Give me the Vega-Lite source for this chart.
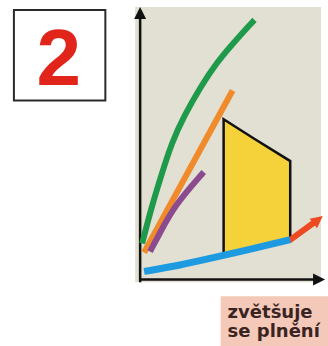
{
  "$schema": "https://vega.github.io/schema/vega-lite/v6.json",
  "width": 328,
  "height": 346,
  "autosize": {"type": "fit", "contains": "padding"},
  "padding": 0,
  "background": "white",
  "config": {"view": {"stroke": null}},
  "datasets": {
    "numbox": [{"x": 14, "x2": 106, "y": 10, "y2": 101}],
    "plotbg": [{"x": 136, "x2": 323, "y": 7, "y2": 284}],
    "labelbox": [{"x": 222, "x2": 330, "y": 298, "y2": 348}],
    "num": [{"x": 59, "y": 85, "t": "2"}],
    "label": [{"x": 229, "y": 320, "t": "zvětšuje\nse plnění"}],
    "lines": [
      {"s": "green", "o": 0, "x": 143, "y": 245},
      {"s": "green", "o": 1, "x": 152, "y": 210},
      {"s": "green", "o": 2, "x": 162, "y": 177},
      {"s": "green", "o": 3, "x": 173, "y": 143},
      {"s": "green", "o": 4, "x": 185, "y": 117},
      {"s": "green", "o": 5, "x": 202, "y": 87},
      {"s": "green", "o": 6, "x": 218, "y": 63},
      {"s": "green", "o": 7, "x": 235, "y": 43},
      {"s": "green", "o": 8, "x": 256, "y": 20},
      {"s": "orange", "o": 0, "x": 145, "y": 254},
      {"s": "orange", "o": 1, "x": 234, "y": 91},
      {"s": "purple", "o": 0, "x": 151, "y": 253},
      {"s": "purple", "o": 1, "x": 160, "y": 236},
      {"s": "purple", "o": 2, "x": 176, "y": 206},
      {"s": "purple", "o": 3, "x": 205, "y": 173},
      {"s": "red", "o": 0, "x": 291, "y": 242},
      {"s": "red", "o": 1, "x": 317, "y": 223}
    ],
    "blue": [
      {"o": 0, "x": 145, "y": 273},
      {"o": 1, "x": 180, "y": 267},
      {"o": 2, "x": 220, "y": 258},
      {"o": 3, "x": 255, "y": 250},
      {"o": 4, "x": 292, "y": 241}
    ],
    "poly": [
      {"x": 225, "y": 120, "y2": 257},
      {"x": 255, "y": 139, "y2": 250},
      {"x": 292, "y": 162, "y2": 241}
    ],
    "axes": [
      {"x": 141, "x2": 141, "y": 284, "y2": 14},
      {"x": 140, "x2": 318, "y": 281, "y2": 281}
    ],
    "heads": [
      {"k": "ax", "x": 141, "y": 13, "a": 0},
      {"k": "ax", "x": 321, "y": 281, "a": 90},
      {"k": "red", "x": 320, "y": 221, "a": 52}
    ]
  },
  "layer": [
    {
      "data": {"name": "numbox"},
      "mark": {"type": "rect", "fill": "white", "stroke": "#2a2a2a", "strokeWidth": 2},
      "encoding": {
        "x": {"field": "x", "type": "quantitative", "scale": {"domain": [0, 328], "nice": false, "zero": false}, "axis": null},
        "x2": {"field": "x2"},
        "y": {"field": "y", "type": "quantitative", "scale": {"domain": [0, 346], "nice": false, "zero": false, "reverse": true}, "axis": null},
        "y2": {"field": "y2"}
      }
    },
    {
      "data": {"name": "plotbg"},
      "mark": {"type": "rect", "fill": "#e1e0d3"},
      "encoding": {
        "x": {"field": "x", "type": "quantitative"},
        "x2": {"field": "x2"},
        "y": {"field": "y", "type": "quantitative"},
        "y2": {"field": "y2"}
      }
    },
    {
      "data": {"name": "labelbox"},
      "mark": {"type": "rect", "fill": "#f5c9b9"},
      "encoding": {
        "x": {"field": "x", "type": "quantitative"},
        "x2": {"field": "x2"},
        "y": {"field": "y", "type": "quantitative"},
        "y2": {"field": "y2"}
      }
    },
    {
      "data": {"name": "num"},
      "mark": {"type": "text", "font": "Liberation Sans", "fontWeight": "bold", "fontSize": 80, "color": "#e1251b", "align": "center", "baseline": "alphabetic"},
      "encoding": {
        "x": {"field": "x", "type": "quantitative"},
        "y": {"field": "y", "type": "quantitative"},
        "text": {"field": "t"}
      }
    },
    {
      "data": {"name": "label"},
      "mark": {"type": "text", "font": "DejaVu Sans", "fontWeight": "bold", "fontSize": 18, "lineBreak": "\n", "lineHeight": 19, "color": "#3a2422", "align": "left", "baseline": "alphabetic"},
      "encoding": {
        "x": {"field": "x", "type": "quantitative"},
        "y": {"field": "y", "type": "quantitative"},
        "text": {"field": "t"}
      }
    },
    {
      "data": {"name": "poly"},
      "mark": {"type": "area", "orient": "vertical", "fill": "#f5d23a", "fillOpacity": 1, "stroke": "#111111", "strokeWidth": 2.5, "strokeJoin": "miter"},
      "encoding": {
        "x": {"field": "x", "type": "quantitative"},
        "y": {"field": "y", "type": "quantitative"},
        "y2": {"field": "y2"}
      }
    },
    {
      "data": {"name": "axes"},
      "mark": {"type": "rule", "color": "#111111", "strokeWidth": 2.5},
      "encoding": {
        "x": {"field": "x", "type": "quantitative"},
        "x2": {"field": "x2"},
        "y": {"field": "y", "type": "quantitative"},
        "y2": {"field": "y2"}
      }
    },
    {
      "data": {"name": "lines"},
      "mark": {"type": "line", "strokeWidth": 6, "interpolate": "basis", "strokeCap": "butt"},
      "encoding": {
        "x": {"field": "x", "type": "quantitative"},
        "y": {"field": "y", "type": "quantitative"},
        "order": {"field": "o"},
        "color": {"field": "s", "type": "nominal", "legend": null,
          "scale": {"domain": ["green", "orange", "purple", "red", "ax"], "range": ["#1f9a4a", "#f08a2a", "#8c4b8f", "#ee4a22", "#111111"]}},
        "strokeWidth": {"condition": {"test": "datum.s === 'red'", "value": 3.5}, "value": 6}
      }
    },
    {
      "data": {"name": "blue"},
      "mark": {"type": "line", "strokeWidth": 7, "interpolate": "basis", "strokeCap": "butt", "color": "#1e9be0"},
      "encoding": {
        "x": {"field": "x", "type": "quantitative"},
        "y": {"field": "y", "type": "quantitative"},
        "order": {"field": "o"}
      }
    },
    {
      "data": {"name": "heads"},
      "mark": {"type": "point", "filled": true, "opacity": 1, "shape": "M0,-1L1,1L-1,1Z", "size": 144},
      "encoding": {
        "x": {"field": "x", "type": "quantitative"},
        "y": {"field": "y", "type": "quantitative"},
        "angle": {"field": "a", "type": "quantitative", "scale": null},
        "color": {"field": "k", "type": "nominal", "legend": null,
          "scale": {"domain": ["green", "orange", "purple", "red", "ax"], "range": ["#1f9a4a", "#f08a2a", "#8c4b8f", "#ee4a22", "#111111"]}}
      }
    }
  ]
}
